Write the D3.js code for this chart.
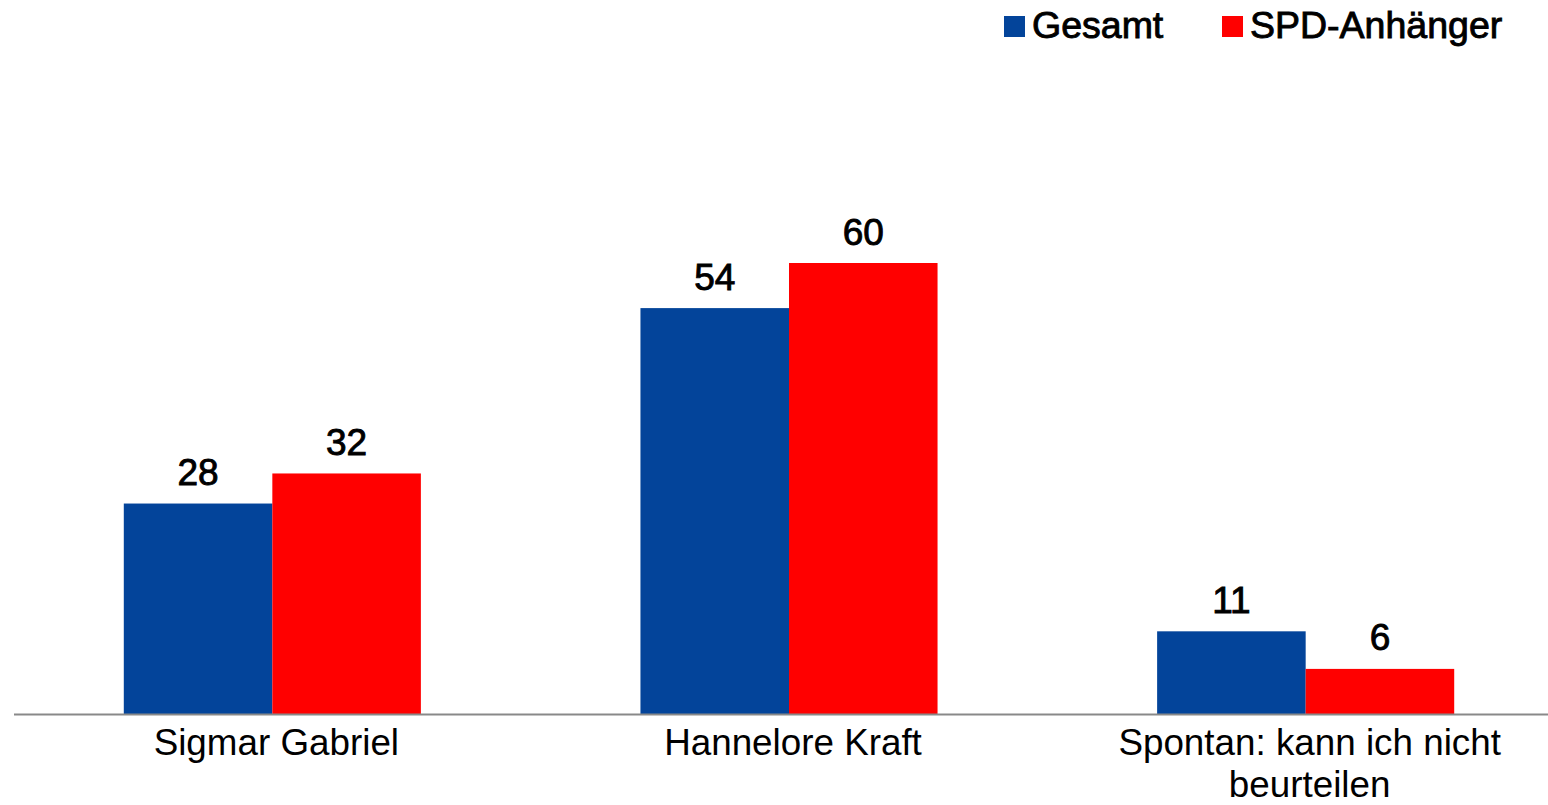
<!DOCTYPE html>
<html><head><meta charset="utf-8">
<script src="https://cdn.jsdelivr.net/npm/d3@7"></script>
<style>html,body{margin:0;padding:0;background:#fff;}svg{display:block;}</style>
</head><body>
<svg id="chart" width="1548" height="805"></svg>
<script>
const categories = [["Sigmar Gabriel"], ["Hannelore Kraft"], ["Spontan: kann ich nicht", "beurteilen"]];
const seriesNames = ["Gesamt", "SPD-Anhänger"];
const gesamt = [28, 54, 11];
const spd = [32, 60, 6];
const colors = ["#03449A", "#FF0000"];

const svg = d3.select("#chart");
const font = "Arial, 'Liberation Sans', sans-serif";
const catKeys = categories.map(c => c.join(" "));
const seriesValues = [gesamt, spd];

const x0 = d3.scaleBand().domain(catKeys).range([14, 1564]).paddingInner(0.425).paddingOuter(0.2125);
const x1 = d3.scaleBand().domain(seriesNames).range([0, x0.bandwidth()]);
const y = d3.scaleLinear().domain([0, 60]).range([714, 263]);

// bars
seriesNames.forEach((s, si) => {
  const g = svg.append("g");
  g.selectAll("rect").data(seriesValues[si]).join("rect")
    .attr("x", (d, i) => x0(catKeys[i]) + x1(s))
    .attr("y", d => y(d))
    .attr("width", x1.bandwidth())
    .attr("height", d => y(0) - y(d))
    .attr("fill", colors[si]);
  g.selectAll("text").data(seriesValues[si]).join("text")
    .attr("x", (d, i) => x0(catKeys[i]) + x1(s) + x1.bandwidth() / 2)
    .attr("y", d => y(d) - 18.5)
    .attr("text-anchor", "middle")
    .attr("font-family", font).attr("font-size", 37)
    .attr("fill", "#000").attr("stroke", "#000").attr("stroke-width", 0.9)
    .text(d => d);
});

// axis line
svg.append("line").attr("x1", 14).attr("x2", 1564).attr("y1", y(0) + 0.5).attr("y2", y(0) + 0.5)
  .attr("stroke", "#898989").attr("stroke-width", 2);

// category labels
const cl = svg.append("g");
categories.forEach((lines, i) => {
  const cx = x0(catKeys[i]) + x0.bandwidth() / 2 + 4;
  const t = cl.append("text")
    .attr("x", cx)
    .attr("y", 755)
    .attr("text-anchor", "middle")
    .attr("font-family", font).attr("font-size", 36.8).attr("fill", "#000");
  lines.forEach((ln, j) => {
    t.append("tspan").attr("x", cx).attr("dy", j === 0 ? 0 : 42).text(ln);
  });
});

// legend
const legendX = [1004, 1222];
const leg = svg.append("g");
seriesNames.forEach((s, si) => {
  leg.append("rect").attr("x", legendX[si]).attr("y", 16).attr("width", 21).attr("height", 21).attr("fill", colors[si]);
  leg.append("text").attr("x", legendX[si] + 28).attr("y", 38)
    .attr("font-family", font).attr("font-size", 37.5).attr("fill", "#000")
    .attr("stroke", "#000").attr("stroke-width", 0.9)
    .text(s);
});
</script>
</body></html>
